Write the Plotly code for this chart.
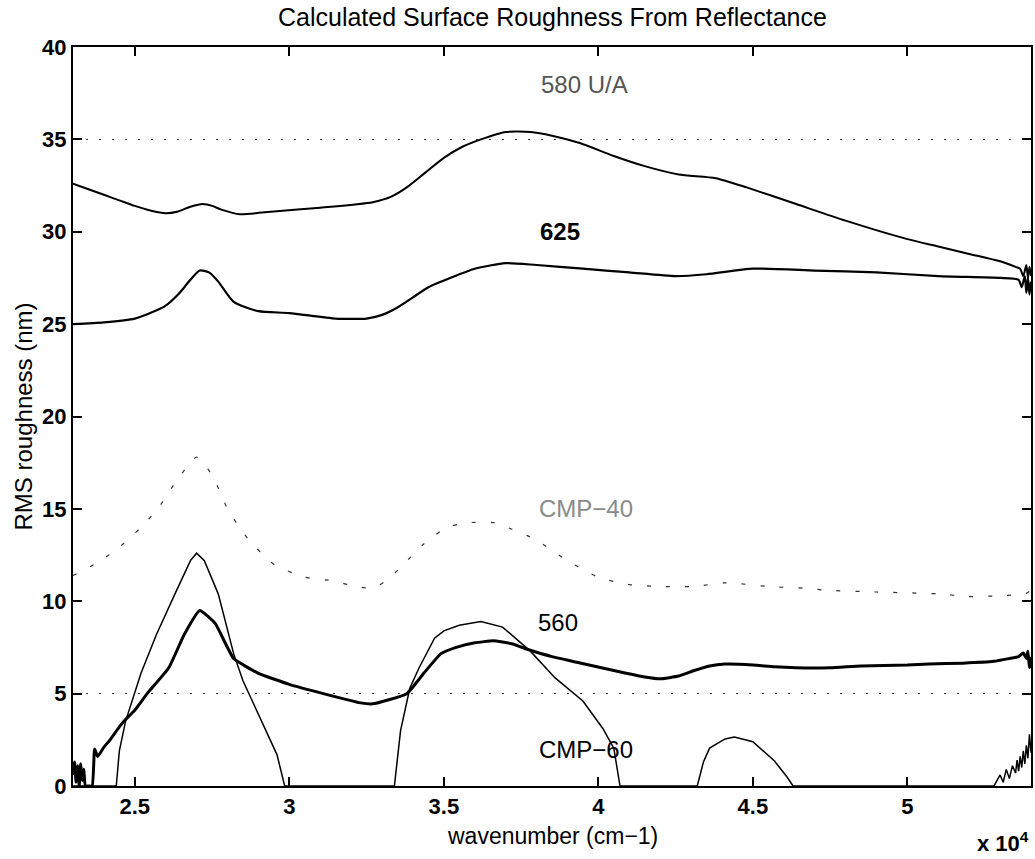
import plotly.graph_objects as go

# Wavenumber axis (x 10^4 cm-1) and calculated RMS roughness (nm) per sample

wn_580 = [2.30, 2.35, 2.40, 2.45, 2.50, 2.55, 2.60, 2.64, 2.68, 2.72, 2.75, 2.78, 2.84,
          2.95, 3.10, 3.27, 3.33, 3.38, 3.44, 3.50, 3.56, 3.62, 3.70, 3.78, 3.85, 3.94,
          4.05, 4.15, 4.26, 4.38, 4.48, 4.64, 4.80, 5.00, 5.10, 5.20, 5.30, 5.35,
          5.365, 5.375, 5.385, 5.39, 5.395, 5.40]
rms_580 = [32.6, 32.3, 32.0, 31.7, 31.4, 31.15, 31.0, 31.1, 31.35, 31.5, 31.4, 31.2, 30.95,
           31.1, 31.3, 31.6, 31.9, 32.4, 33.2, 34.0, 34.6, 35.0, 35.4, 35.4, 35.2, 34.8,
           34.1, 33.55, 33.1, 32.9, 32.4, 31.5, 30.6, 29.6, 29.2, 28.8, 28.4, 28.1,
           28.0, 27.6, 28.2, 27.5, 28.1, 27.6]

wn_625 = [2.30, 2.40, 2.50, 2.55, 2.60, 2.64, 2.68, 2.71, 2.74, 2.77, 2.82, 2.90, 3.00,
          3.15, 3.25, 3.30, 3.35, 3.40, 3.45, 3.52, 3.60, 3.70, 3.80, 3.95, 4.10, 4.25,
          4.35, 4.50, 4.70, 4.90, 5.10, 5.30, 5.36, 5.37, 5.38, 5.385, 5.39, 5.395, 5.40]
rms_625 = [25.0, 25.1, 25.3, 25.6, 26.0, 26.6, 27.4, 27.9, 27.8, 27.3, 26.2, 25.7, 25.6,
           25.3, 25.3, 25.5, 25.9, 26.45, 27.0, 27.5, 28.0, 28.3, 28.2, 28.0, 27.8, 27.6,
           27.7, 28.0, 27.9, 27.8, 27.6, 27.5, 27.4, 27.0, 27.6, 26.7, 27.5, 26.6, 27.3]

wn_cmp40 = [2.30, 2.32, 2.39, 2.455, 2.52, 2.574, 2.63, 2.67, 2.70, 2.735, 2.76, 2.80,
            2.865, 2.95, 3.05, 3.145, 3.19, 3.27, 3.32, 3.37, 3.435, 3.51, 3.58, 3.665,
            3.72, 3.77, 3.81, 3.90, 4.00, 4.10, 4.20, 4.31, 4.41, 4.55, 4.67, 4.735,
            4.90, 5.10, 5.20, 5.30, 5.38, 5.40]
rms_cmp40 = [11.4, 11.55, 12.2, 13.0, 14.0, 15.0, 16.4, 17.3, 17.8, 17.2, 16.5, 15.0,
             13.4, 12.0, 11.3, 11.1, 10.9, 10.7, 11.2, 12.0, 13.1, 14.0, 14.25, 14.25,
             13.9, 13.55, 13.2, 12.2, 11.3, 10.9, 10.8, 10.8, 11.0, 10.8, 10.7, 10.6,
             10.5, 10.4, 10.25, 10.3, 10.4, 10.6]

wn_560 = [2.300, 2.305, 2.310, 2.315, 2.320, 2.325, 2.330, 2.335, 2.340, 2.350, 2.362,
          2.370, 2.380, 2.400, 2.420, 2.450, 2.470, 2.500, 2.540, 2.610, 2.660, 2.710,
          2.760, 2.820, 2.900, 3.000, 3.110, 3.230, 3.270, 3.380, 3.435, 3.490, 3.540,
          3.600, 3.660, 3.720, 3.770, 3.850, 3.930, 4.010, 4.090, 4.150, 4.200, 4.260,
          4.310, 4.360, 4.410, 4.500, 4.570, 4.640, 4.750, 4.850, 5.000, 5.070, 5.180,
          5.280, 5.330, 5.360, 5.375, 5.385, 5.390, 5.395, 5.400]
rms_560 = [0.6, 1.3, 0.2, 1.1, 0.0, 1.2, 0.3, 0.9, 0.0, 0.0, 0.0,
           2.0, 1.6, 2.1, 2.5, 3.2, 3.6, 4.1, 5.0, 6.4, 8.2, 9.5,
           8.8, 6.9, 6.1, 5.5, 5.0, 4.5, 4.45, 5.0, 6.1, 7.15, 7.5,
           7.75, 7.86, 7.7, 7.4, 7.0, 6.7, 6.4, 6.1, 5.9, 5.8, 5.95,
           6.25, 6.5, 6.6, 6.55, 6.45, 6.4, 6.4, 6.5, 6.55, 6.6, 6.65,
           6.75, 6.9, 7.0, 7.2, 6.9, 7.3, 6.4, 7.0]

wn_cmp60 = [2.300, 2.440, 2.450, 2.470, 2.520, 2.570, 2.630, 2.680, 2.700, 2.725, 2.770,
            2.820, 2.850, 2.900, 2.940, 2.960, 2.985, 3.340, 3.360, 3.390, 3.420, 3.470,
            3.500, 3.550, 3.620, 3.690, 3.780, 3.860, 3.950, 4.015, 4.050, 4.070, 4.320,
            4.340, 4.360, 4.410, 4.440, 4.500, 4.570, 4.610, 4.630, 5.280, 5.300, 5.310,
            5.320, 5.330, 5.340, 5.350, 5.355, 5.360, 5.365, 5.370, 5.375, 5.380, 5.385,
            5.390, 5.395, 5.400]
rms_cmp60 = [0.0, 0.0, 1.9, 3.5, 6.1, 8.2, 10.4, 12.2, 12.6, 12.2, 10.4,
             7.15, 5.7, 3.9, 2.4, 1.7, 0.0, 0.0, 3.0, 5.3, 6.4, 8.0,
             8.4, 8.7, 8.9, 8.6, 7.3, 5.85, 4.6, 3.1, 2.05, 0.0, 0.0,
             1.3, 2.05, 2.55, 2.65, 2.4, 1.35, 0.5, 0.0, 0.0, 0.6, 0.2,
             0.9, 0.4, 1.1, 0.7, 1.4, 0.8, 1.6, 1.0, 1.9, 1.2, 2.2,
             1.5, 2.8, 1.8]

x_ticks = [2.5, 3.0, 3.5, 4.0, 4.5, 5.0]
x_tick_text = ["2.5", "3", "3.5", "4", "4.5", "5"]
y_ticks = [0, 5, 10, 15, 20, 25, 30, 35, 40]
grid_levels = [5, 35]

# Curve labels: text, wavenumber, roughness
label_text = ["580 U/A", "625", "CMP\u221240", "560", "CMP\u221260"]
label_wn = [3.955, 3.875, 3.96, 3.87, 3.96]
label_rms = [37.96, 30.0, 15.0, 8.87, 1.95]
label_color = ["#555555", "#000000", "#8a8a8a", "#000000", "#000000"]
label_weight = ["normal", "bold", "normal", "normal", "normal"]

FONT = "Liberation Sans, Arial, Helvetica, sans-serif"

fig = go.Figure()

fig.add_trace(go.Scatter(x=wn_580, y=rms_580, mode="lines",
                         line=dict(color="black", width=2, shape="spline", smoothing=0.6)))
fig.add_trace(go.Scatter(x=wn_625, y=rms_625, mode="lines",
                         line=dict(color="black", width=2.2, shape="spline", smoothing=0.6)))
fig.add_trace(go.Scatter(x=wn_cmp40, y=rms_cmp40, mode="lines",
                         line=dict(color="#333333", width=1.2, dash="4px,15px",
                                   shape="spline", smoothing=0.6)))
fig.add_trace(go.Scatter(x=wn_560, y=rms_560, mode="lines",
                         line=dict(color="black", width=3, shape="spline", smoothing=0.4)))
fig.add_trace(go.Scatter(x=wn_cmp60, y=rms_cmp60, mode="lines",
                         line=dict(color="black", width=1.5)))

for t, xv, yv, c, w in zip(label_text, label_wn, label_rms, label_color, label_weight):
    fig.add_annotation(x=xv, y=yv, text=t, showarrow=False,
                       font=dict(family=FONT, size=24, color=c, weight=w),
                       xanchor="center", yanchor="middle")

axis_common = dict(showline=True, linecolor="black", linewidth=2, mirror="ticks",
                   ticks="inside", ticklen=9, tickwidth=1.5, tickcolor="black",
                   showgrid=False, zeroline=False,
                   tickfont=dict(family=FONT, size=22, color="black", weight="bold"))

fig.update_layout(
    width=1035, height=859,
    margin=dict(l=73, r=2, t=47, b=73),
    paper_bgcolor="white", plot_bgcolor="white",
    showlegend=False,
    xaxis=dict(range=[2.3, 5.4], tickvals=x_ticks, ticktext=x_tick_text, **axis_common),
    yaxis=dict(range=[0, 40], tickvals=y_ticks, **axis_common),
    # dotted grid lines
    yaxis2=dict(range=[0, 40], overlaying="y", tickvals=grid_levels, showticklabels=False,
                showgrid=True, gridcolor="#333333", gridwidth=1, griddash="2px,11px",
                zeroline=False, showline=False, ticks=""),
)

# invisible trace that carries the grid axis
fig.add_trace(go.Scatter(x=[2.3], y=[0], yaxis="y2", mode="markers",
                         marker=dict(opacity=0), hoverinfo="skip"))

fig.add_annotation(text="Calculated Surface Roughness From Reflectance",
                   xref="paper", yref="paper", x=0.5, y=1, yshift=30,
                   xanchor="center", yanchor="middle", showarrow=False,
                   font=dict(family=FONT, size=25, color="black"))
fig.add_annotation(text="wavenumber (cm\u22121)",
                   xref="paper", yref="paper", x=0.5, y=0, yshift=-50,
                   xanchor="center", yanchor="middle", showarrow=False,
                   font=dict(family=FONT, size=23, color="black"))
fig.add_annotation(text="RMS roughness (nm)", textangle=-90,
                   xref="paper", yref="paper", x=0, y=0.5, xshift=-50,
                   xanchor="center", yanchor="middle", showarrow=False,
                   font=dict(family=FONT, size=24, color="black"))
fig.add_annotation(text="x 10<sup>4</sup>",
                   xref="paper", yref="paper", x=1, y=0, yshift=-56,
                   xanchor="right", yanchor="middle", showarrow=False,
                   font=dict(family=FONT, size=22, color="black", weight="bold"))

fig.write_html("out.html")
